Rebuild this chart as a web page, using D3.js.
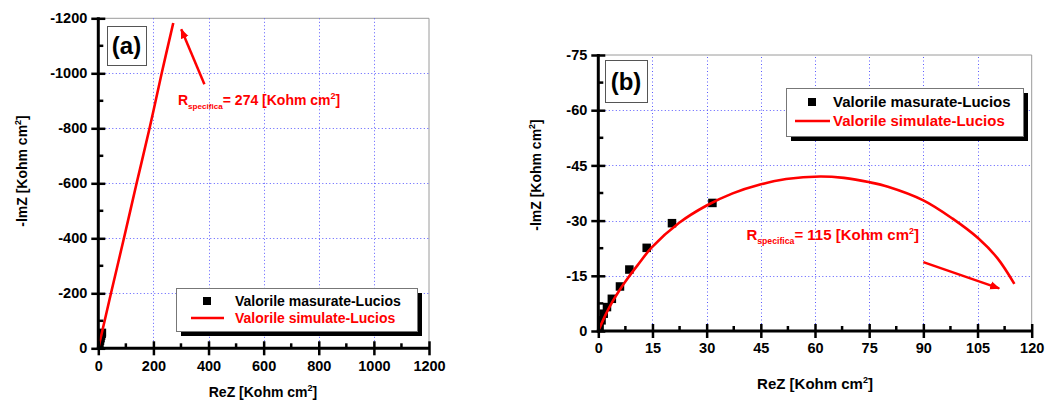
<!DOCTYPE html>
<html><head><meta charset="utf-8">
<script src="https://cdn.jsdelivr.net/npm/d3@7"></script>
<style>
body{margin:0;background:#fff;}
svg{display:block;}
text{font-family:Arial,"Liberation Sans",sans-serif;font-weight:bold;}
</style></head>
<body>
<svg id="chart" width="1062" height="402"></svg>
<script>
// ---------- DATA ----------
// Panel (a)
const aXTicks = [0, 200, 400, 600, 800, 1000, 1200];
const aXMinor = [100, 300, 500, 700, 900, 1100];
const aYTicks = [0, 200, 400, 600, 800, 1000, 1200];
const aYTickLabels = ["0", "-200", "-400", "-600", "-800", "-1000", "-1200"];
const aYMinor = [100, 300, 500, 700, 900, 1100];
const aMeasuredX = [3, 5, 7, 9, 11, 13, 14];
const aMeasuredY = [10, 18, 27, 36, 45, 52, 57];
const aSimX = [0, 46, 93, 139, 186, 230, 272];
const aSimY = [0, 200, 400, 600, 800, 1000, 1183];

// Panel (b)
const bXTicks = [0, 15, 30, 45, 60, 75, 90, 105, 120];
const bXMinor = [7.5, 22.5, 37.5, 52.5, 67.5, 82.5, 97.5, 112.5];
const bYTicks = [0, 15, 30, 45, 60, 75];
const bYTickLabels = ["0", "-15", "-30", "-45", "-60", "-75"];
const bYMinor = [7.5, 22.5, 37.5, 52.5, 67.5];
const bMeasuredX = [0.36, 0.9, 1.5, 2.4, 3.75, 6.0, 8.6, 13.4, 20.4, 31.6];
const bMeasuredY = [1.3, 2.9, 4.7, 6.5, 8.75, 12.1, 16.7, 22.6, 29.3, 34.8];
const bSimX = [0, 2, 4, 6, 8.2, 10.9, 14.8, 22.4, 30, 37.2, 44.8, 52, 61.4, 68, 75.2, 80.2, 90, 98, 105.2, 110.5, 115.2];
const bSimY = [0, 4.4, 8.1, 11.3, 14.4, 17.9, 22.7, 29.4, 34.1, 37.4, 39.8, 41.3, 42.0, 41.6, 40.4, 39.2, 35.5, 30.6, 25.2, 19.8, 12.8];

const legendLabels = ["Valorile masurate-Lucios", "Valorile simulate-Lucios"];
const xTitle = "ReZ [Kohm cm";
const yTitle = "-lmZ [Kohm cm";
const aNote = {value: "= 274 [Kohm cm", x: 289, y: 884, arrowFrom: [385, 960], arrowTo: [301, 1160]};
const bNote = {value: "= 115 [Kohm cm", x: 41, y: 24.7, arrowFrom: [90, 18.7], arrowTo: [111, 11.6]};

// ---------- DRAW ----------
const svg = d3.select("#chart");
const defs = svg.append("defs");
defs.append("marker").attr("id", "arr").attr("viewBox", "0 0 10 10")
  .attr("refX", 9).attr("refY", 5).attr("markerWidth", 4).attr("markerHeight", 4)
  .attr("orient", "auto").attr("markerUnits", "strokeWidth")
  .append("path").attr("d", "M0,1 L10,5 L0,9 Z").attr("fill", "#ff0000");

function panel(cfg) {
  const x = d3.scaleLinear().domain(cfg.xDomain).range(cfg.xRange);
  const y = d3.scaleLinear().domain(cfg.yDomain).range(cfg.yRange);
  const g = svg.append("g");
  const [x0, x1] = cfg.xRange, [y0, y1] = cfg.yRange;
  const fs = cfg.fs;

  // frame (top/right)
  g.append("path").attr("d", `M${x0},${y1}H${x1}V${y0}`).attr("fill", "none")
    .attr("stroke", "#9a9a9a").attr("stroke-width", 1);

  // grid
  const grid = g.append("g").attr("stroke", "#5a5aff").attr("stroke-width", 1)
    .attr("stroke-dasharray", "1,2.5");
  grid.selectAll(".gx").data(cfg.xTicks.filter(d => d !== cfg.xDomain[0] && d !== cfg.xDomain[1]))
    .join("line").attr("x1", d => Math.round(x(d)) + 0.5).attr("x2", d => Math.round(x(d)) + 0.5)
    .attr("y1", y0).attr("y2", y1);
  grid.selectAll(".gy").data(cfg.yTicks.filter(d => d !== cfg.yDomain[0] && d !== cfg.yDomain[1]))
    .join("line").attr("y1", d => Math.round(y(d)) + 0.5).attr("y2", d => Math.round(y(d)) + 0.5)
    .attr("x1", x0).attr("x2", x1);

  // clip
  const cid = "clip" + cfg.id;
  defs.append("clipPath").attr("id", cid).append("rect")
    .attr("x", x0).attr("y", y1).attr("width", x1 - x0).attr("height", y0 - y1);
  const plot = g.append("g").attr("clip-path", `url(#${cid})`);

  // measured squares
  const s = cfg.sq;
  plot.selectAll("rect.m").data(cfg.mx.map((v, i) => [v, cfg.my[i]])).join("rect")
    .attr("x", d => x(d[0]) - s / 2).attr("y", d => y(d[1]) - s / 2)
    .attr("width", s).attr("height", s).attr("fill", "#000");

  // simulated line
  const line = d3.line().x(d => x(d[0])).y(d => y(d[1])).curve(d3.curveCatmullRom);
  plot.append("path").datum(cfg.sx.map((v, i) => [v, cfg.sy[i]]))
    .attr("d", line).attr("fill", "none").attr("stroke", "#ff0000").attr("stroke-width", 2.6);

  // axes
  const xa = g.append("g").attr("transform", `translate(0,${y0})`)
    .call(d3.axisBottom(x).tickValues(cfg.xTicks).tickSize(7).tickFormat(d3.format("d")));
  const ya = g.append("g").attr("transform", `translate(${x0},0)`)
    .call(d3.axisLeft(y).tickValues(cfg.yTicks).tickSize(7).tickFormat((d, i) => cfg.yLabels[i]));
  [xa, ya].forEach(a => {
    a.select(".domain").attr("stroke", "#000").attr("stroke-width", 3);
    a.selectAll(".tick line").attr("stroke", "#000").attr("stroke-width", 2.5);
    a.selectAll(".tick text").attr("fill", "#000").style("font-size", "14.5px")
      .style("font-family", "Arial, 'Liberation Sans', sans-serif").style("font-weight", "bold");
  });
  xa.select(".domain").attr("d", `M${x0 - 1.5},0H${x1 + 1}`);
  ya.select(".domain").attr("d", `M0,${y0 + 1.5}V${y1 - 1}`);
  xa.selectAll(".tick line").attr("y1", -7).attr("y2", 7);
  ya.selectAll(".tick line").attr("x1", -7).attr("x2", 7);
  xa.selectAll(".tick text").attr("y", 12);
  ya.selectAll(".tick text").attr("x", -11);
  // minor ticks (inside)
  g.append("g").selectAll("line").data(cfg.xMinor).join("line")
    .attr("x1", d => x(d)).attr("x2", d => x(d)).attr("y1", y0).attr("y2", y0 - 5)
    .attr("stroke", "#000").attr("stroke-width", 2.5);
  g.append("g").selectAll("line").data(cfg.yMinor).join("line")
    .attr("y1", d => y(d)).attr("y2", d => y(d)).attr("x1", x0).attr("x2", x0 + 5)
    .attr("stroke", "#000").attr("stroke-width", 2.5);

  // axis titles
  const xt = g.append("text").attr("x", cfg.xTitlePos[0]).attr("y", cfg.xTitlePos[1])
    .attr("text-anchor", "middle").style("font-size", fs + "px").attr("fill", "#000");
  xt.append("tspan").text(xTitle);
  xt.append("tspan").attr("dy", -6).style("font-size", "9px").text("2");
  xt.append("tspan").attr("dy", 6).text("]");
  const yt = g.append("text").attr("transform", `translate(${cfg.yTitlePos[0]},${cfg.yTitlePos[1]}) rotate(-90)`)
    .attr("text-anchor", "middle").style("font-size", "14px").attr("fill", "#000");
  yt.append("tspan").text(yTitle);
  yt.append("tspan").attr("dy", -6).style("font-size", "9px").text("2");
  yt.append("tspan").attr("dy", 6).text("]");

  // panel label box
  const lb = cfg.labelBox;
  g.append("rect").attr("x", lb[0] + 0.5).attr("y", lb[1] + 0.5).attr("width", lb[2]).attr("height", lb[3])
    .attr("fill", "#fff").attr("stroke", "#555").attr("stroke-width", 1);
  g.append("text").attr("x", lb[0] + lb[2] / 2).attr("y", lb[1] + lb[3] / 2 + 8.5)
    .attr("text-anchor", "middle").style("font-size", "24px").attr("fill", "#000").text(cfg.label);

  // legend
  const L = cfg.legend;
  g.append("rect").attr("x", L.x + 5).attr("y", L.y + 5).attr("width", L.w).attr("height", L.h).attr("fill", "#000");
  g.append("rect").attr("x", L.x + 0.5).attr("y", L.y + 0.5).attr("width", L.w).attr("height", L.h)
    .attr("fill", "#fff").attr("stroke", "#777").attr("stroke-width", 1);
  g.append("rect").attr("x", L.sqx - 4).attr("y", L.y1 - 4).attr("width", 8).attr("height", 8).attr("fill", "#000");
  g.append("text").attr("x", L.tx).attr("y", L.y1 + 5).style("font-size", fs + "px").attr("fill", "#000").text(legendLabels[0]);
  g.append("line").attr("x1", L.lx0).attr("x2", L.lx1).attr("y1", L.y2).attr("y2", L.y2)
    .attr("stroke", "#ff0000").attr("stroke-width", 2.6);
  g.append("text").attr("x", L.tx).attr("y", L.y2 + 5).style("font-size", fs + "px").attr("fill", "#ff0000").text(legendLabels[1]);

  // annotation
  const n = cfg.note;
  const nt = g.append("text").attr("x", x(n.x)).attr("y", y(n.y)).attr("fill", "#ff0000").style("font-size", fs + "px");
  nt.append("tspan").text("R");
  nt.append("tspan").attr("dy", 4).style("font-size", (fs * 0.58) + "px").text("specifica");
  nt.append("tspan").attr("dy", -4).text(n.value);
  nt.append("tspan").attr("dy", -6).style("font-size", "9px").text("2");
  nt.append("tspan").attr("dy", 6).text("]");
  g.append("line").attr("x1", x(n.arrowFrom[0])).attr("y1", y(n.arrowFrom[1]))
    .attr("x2", x(n.arrowTo[0])).attr("y2", y(n.arrowTo[1]))
    .attr("stroke", "#ff0000").attr("stroke-width", 2.5).attr("marker-end", "url(#arr)");
}

panel({
  id: "a", label: "(a)", fs: 14,
  xDomain: [0, 1200], xRange: [98.3, 429], yDomain: [0, 1200], yRange: [348.3, 18.3],
  xTicks: aXTicks, xMinor: aXMinor, yTicks: aYTicks, yLabels: aYTickLabels, yMinor: aYMinor,
  mx: aMeasuredX, my: aMeasuredY, sx: aSimX, sy: aSimY, sq: 8,
  xTitlePos: [263, 397], yTitlePos: [27, 171],
  labelBox: [107, 26, 39, 39],
  legend: {x: 176, y: 288, w: 241, h: 43, sqx: 207, y1: 301, tx: 235, lx0: 191, lx1: 224, y2: 318},
  note: aNote
});

panel({
  id: "b", label: "(b)", fs: 15,
  xDomain: [0, 120], xRange: [598.3, 1031.7], yDomain: [0, 75], yRange: [331, 55],
  xTicks: bXTicks, xMinor: bXMinor, yTicks: bYTicks, yLabels: bYTickLabels, yMinor: bYMinor,
  mx: bMeasuredX, my: bMeasuredY, sx: bSimX, sy: bSimY, sq: 8.5,
  xTitlePos: [815, 389], yTitlePos: [541, 175],
  labelBox: [605, 60, 42, 42],
  legend: {x: 786, y: 88, w: 237, h: 48, sqx: 812, y1: 102, tx: 833, lx0: 795, lx1: 830, y2: 121},
  note: bNote
});
</script>
</body></html>
